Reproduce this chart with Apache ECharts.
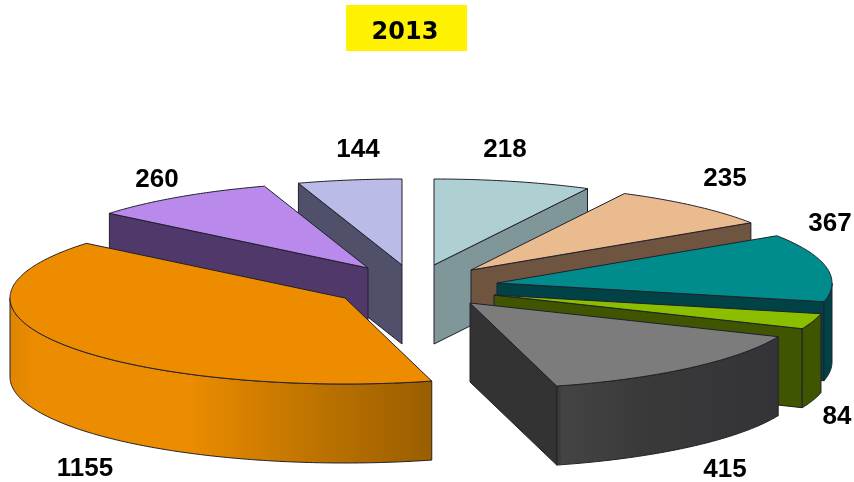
<!DOCTYPE html>
<html>
<head>
<meta charset="utf-8">
<style>html,body{margin:0;padding:0;background:#fff}#c{width:854px;height:482px}</style>
<script src="https://cdn.jsdelivr.net/npm/echarts@6/dist/echarts.min.js"></script>
</head>
<body>
<div id="c"></div>
<script>
// Data, clockwise from 12 o'clock
const titleText = '2013';
const values = [218, 235, 367, 84, 415, 1155, 260, 144];
const topColors = ['#AED0D3', '#EABB8E', '#008C8C', '#8CBE00', '#7C7C7C', '#EE8C00', '#B98AEC', '#BBBBE8'];
const wallColors = ['#7F9799', '#6F553F', '#004246', '#3F5500', '#333333', '#EE8C00', '#50386A', '#50506A'];
// Painter's order, back to front
const drawOrder = [7, 0, 1, 6, 2, 3, 5, 4];

// Layout
const centerX = 418, centerY = 286, radiusX = 335, radiusY = 86, depth = 79;
const explodeX = [16, 53, 79, 76, 52, -73, -50, -16];
const explodeY = [-21, -16, -3, 9, 17, 12, -18, -21];
const labelX = [505, 725, 830, 837, 725, 85, 157, 358];
const labelY = [150, 179, 224, 417, 470, 469, 180, 150];

const total = values.reduce((a, b) => a + b, 0);
const starts = [];
values.reduce((acc, v, i) => { starts[i] = acc; return acc + v; }, 0);
const toRad = v => v / total * Math.PI * 2;

const wallFill = {
  5: { type: 'linear', x: 10, y: 0, x2: 432, y2: 0, global: true, colorStops: [
    { offset: 0, color: '#DE8500' }, { offset: 0.06, color: '#EC8C00' }, { offset: 0.42, color: '#EC8C00' },
    { offset: 0.72, color: '#BE7300' }, { offset: 1, color: '#9A5E00' }] },
  4: { type: 'linear', x: 470, y: 0, x2: 778, y2: 0, global: true, colorStops: [
    { offset: 0, color: '#333333' }, { offset: 0.28, color: '#333333' }, { offset: 0.3, color: '#444444' },
    { offset: 0.55, color: '#3A3A3A' }, { offset: 1, color: '#343438' }] }
};

function renderItem(params, api) {
  const i = api.value(0);
  const a0 = toRad(starts[i]);
  const a1 = a0 + toRad(values[i]);
  const tx = centerX + explodeX[i], ty = centerY + explodeY[i];
  const rim = a => [tx + radiusX * Math.sin(a), ty - radiusY * Math.cos(a)];
  const arc = (from, to) => {
    const n = Math.max(2, Math.ceil((to - from) / 0.01));
    const pts = [];
    for (let k = 0; k <= n; k++) pts.push(rim(from + (to - from) * k / n));
    return pts;
  };
  const down = p => [p[0], p[1] + depth];
  const stroke = { stroke: '#20202c', lineWidth: 1, lineJoin: 'round' };
  const children = [];
  const wall = (pts, fill) => children.push({
    type: 'polygon', shape: { points: pts },
    style: Object.assign({ fill: fill }, stroke), silent: true
  });
  const tip = [tx, ty];
  // radial walls that face the viewer
  if (Math.sin(a0) < -1e-6) wall([tip, rim(a0), down(rim(a0)), down(tip)], wallColors[i]);
  if (Math.sin(a1) > 1e-6) wall([tip, rim(a1), down(rim(a1)), down(tip)], wallColors[i]);
  // curved outer wall, front half only
  const f = Math.max(a0, Math.PI / 2), t = Math.min(a1, Math.PI * 1.5);
  if (t > f) {
    const top = arc(f, t);
    wall(top.concat(top.slice().reverse().map(down)), wallFill[i] || wallColors[i]);
  }
  // top face
  children.push({
    type: 'polygon', shape: { points: [tip].concat(arc(a0, a1)) },
    style: Object.assign({ fill: topColors[i] }, stroke), silent: true
  });
  // value label
  children.push({
    type: 'text', silent: true, z2: 10,
    style: {
      text: String(values[i]), x: labelX[i], y: labelY[i], align: 'center', verticalAlign: 'middle',
      fill: '#000', font: 'bold 26px "Liberation Sans", Arial, sans-serif'
    }
  });
  return { type: 'group', children: children };
}

const chart = echarts.init(document.getElementById('c'), null, { renderer: 'canvas' });
chart.setOption({
  animation: false,
  backgroundColor: '#fff',
  title: {
    text: titleText, left: 400, top: 16, textAlign: 'center', z: 10,
    textStyle: { color: '#000', fontSize: 24, fontWeight: 'bold', fontFamily: '"DejaVu Sans", sans-serif' }
  },
  graphic: [{
    type: 'rect', shape: { x: 346, y: 5, width: 121, height: 46 },
    style: { fill: '#FFF200' }, z: 1, silent: true
  }],
  series: [{
    type: 'custom',
    coordinateSystem: 'none',
    renderItem: renderItem,
    encode: { value: 0 },
    data: drawOrder.map(i => [i]),
    silent: true
  }]
});
</script>
</body>
</html>
